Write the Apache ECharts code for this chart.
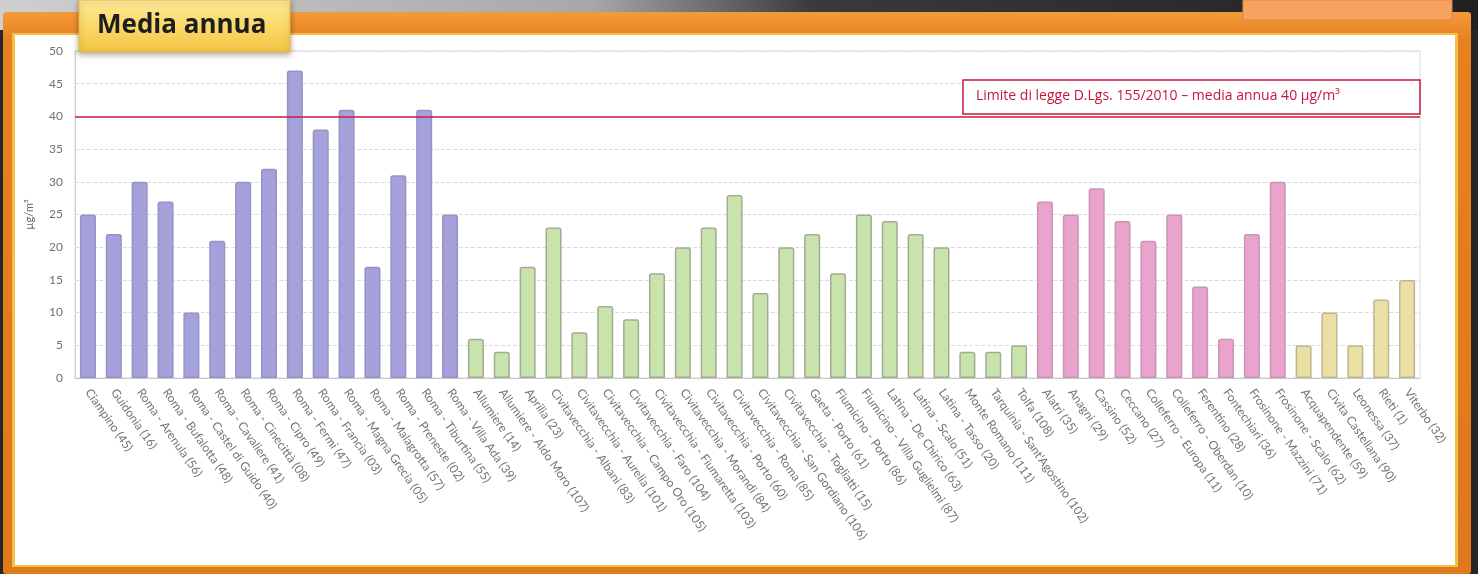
<!DOCTYPE html>
<html>
<head>
<meta charset="utf-8">
<script src="https://cdn.jsdelivr.net/npm/echarts@6/dist/echarts.min.js"></script>
<style>
html, body { margin: 0; padding: 0; background: #262626; }
#main { width: 1478px; height: 574px; }
</style>
</head>
<body>
<div id="main"></div>
<script>
// stazioni per provincia
var romaStations = ['Ciampino (45)', 'Guidonia (16)', 'Roma - Arenula (56)', 'Roma - Bufalotta (48)',
	'Roma - Castel di Guido (40)', 'Roma - Cavaliere (41)', 'Roma - Cinecittà (08)', 'Roma - Cipro (49)',
	'Roma - Fermi (47)', 'Roma - Francia (03)', 'Roma - Magna Grecia (05)', 'Roma - Malagrotta (57)',
	'Roma - Preneste (02)', 'Roma - Tiburtina (55)', 'Roma - Villa Ada (39)'];
var romaValues = [25, 22, 30, 27, 10, 21, 30, 32, 47, 38, 41, 17, 31, 41, 25];

var costaStations = ['Allumiere (14)', 'Allumiere - Aldo Moro (107)', 'Aprilia (23)', 'Civitavecchia - Albani (83)',
	'Civitavecchia - Aurelia (101)', 'Civitavecchia - Campo Oro (105)', 'Civitavecchia - Faro (104)',
	'Civitavecchia - Fiumaretta (103)', 'Civitavecchia - Morandi (84)', 'Civitavecchia - Porto (60)',
	'Civitavecchia - Roma (85)', 'Civitavecchia - San Gordiano (106)', 'Civitavecchia - Togliatti (15)',
	'Gaeta - Porto (61)', 'Fiumicino - Porto (86)', 'Fiumicino - Villa Guglielmi (87)', 'Latina - De Chirico (63)',
	'Latina - Scalo (51)', 'Latina - Tasso (20)', 'Monte Romano (111)', 'Tarquinia - Sant\'Agostino (102)', 'Tolfa (108)'];
var costaValues = [6, 4, 17, 23, 7, 11, 9, 16, 20, 23, 28, 13, 20, 22, 16, 25, 24, 22, 20, 4, 4, 5];

var frosinoneStations = ['Alatri (35)', 'Anagni (29)', 'Cassino (52)', 'Ceccano (27)', 'Colleferro - Europa (11)',
	'Colleferro - Oberdan (10)', 'Ferentino (28)', 'Fontechiari (36)', 'Frosinone - Mazzini (71)', 'Frosinone - Scalo (62)'];
var frosinoneValues = [27, 25, 29, 24, 21, 25, 14, 6, 22, 30];

var nordStations = ['Acquapendente (59)', 'Civita Castellana (90)', 'Leonessa (37)', 'Rieti (1)', 'Viterbo (32)'];
var nordValues = [5, 10, 5, 12, 15];

var limitValue = 40;
var limitText = 'Limite di legge D.Lgs. 155/2010 – media annua 40 µg/m³';

var groups = [
	{ names: romaStations, values: romaValues, color: '#a4a1db', border: '#9593c6' },
	{ names: costaStations, values: costaValues, color: '#c9e3ad', border: '#a3ab94' },
	{ names: frosinoneStations, values: frosinoneValues, color: '#e9a3cd', border: '#c597b3' },
	{ names: nordStations, values: nordValues, color: '#ebe0a4', border: '#bdb695' }
];

var categories = [];
var barData = [];
for (var g = 0; g < groups.length; g++) {
	for (var i = 0; i < groups[g].names.length; i++) {
		categories.push(groups[g].names[i]);
		barData.push({
			value: groups[g].values[i],
			itemStyle: { color: groups[g].color, borderColor: groups[g].border }
		});
	}
}

var myChart = echarts.init(document.getElementById('main'));
var option = {
	animation: false,
	textStyle: { fontFamily: 'Lato, "Open Sans", sans-serif' },
	graphic: [
		// sfondo e cornice
		{ type: 'rect', z: -20, shape: { x: 0, y: 0, width: 1478, height: 30 },
			style: { fill: new echarts.graphic.LinearGradient(0, 0, 1, 0, [
				{ offset: 0, color: '#cfcfcf' }, { offset: 0.4, color: '#a8a8a8' },
				{ offset: 0.55, color: '#3a3a3a' }, { offset: 1, color: '#202020' }]) } },
		{ type: 'rect', z: -19, shape: { x: 3, y: 12, width: 1468, height: 562, r: 3 },
			style: { fill: new echarts.graphic.LinearGradient(0, 0, 0, 1, [
				{ offset: 0, color: '#f39a3c' }, { offset: 0.05, color: '#e8801e' }, { offset: 1, color: '#e0781c' }]) } },
		{ type: 'rect', z: -18, shape: { x: 12, y: 33, width: 1446, height: 534 },
			style: { fill: '#f4c04a' } },
		{ type: 'rect', z: -17, shape: { x: 15, y: 35, width: 1440, height: 530 },
			style: { fill: '#ffffff' } },
		{ type: 'rect', z: -16, shape: { x: 1243, y: 0, width: 209, height: 20 },
			style: { fill: '#f5a35f', stroke: '#d98a48', lineWidth: 1 } },
		// riquadro titolo
		{ type: 'rect', z: 50, shape: { x: 79, y: 0, width: 211, height: 52 },
			style: {
				fill: new echarts.graphic.LinearGradient(0, 0, 0, 1, [
					{ offset: 0, color: '#fde99a' }, { offset: 0.5, color: '#fbd96a' }, { offset: 1, color: '#f2c443' }]),
				stroke: '#e8b93a', lineWidth: 1,
				shadowBlur: 6, shadowColor: 'rgba(0,0,0,0.35)', shadowOffsetY: 2
			} },
		{ type: 'text', z: 51, left: 97, top: 13,
			style: { text: 'Media annua', fill: '#1e1e1e', font: 'bold 26px "Open Sans", Lato, sans-serif' } },
		// riquadro limite di legge
		{ type: 'rect', z: 40, shape: { x: 963, y: 80, width: 457, height: 34 },
			style: { fill: '#ffffff', stroke: '#c8153c', lineWidth: 1.5 } },
		{ type: 'text', z: 41, left: 976, top: 89,
			style: { text: limitText, fill: '#c8153c', font: '14px "Open Sans", Lato, sans-serif' } }
	],
	grid: {
		left: 75, right: 58, top: 51, bottom: 196,
		show: true, borderColor: '#d9d9d9', borderWidth: 1
	},
	xAxis: {
		type: 'category',
		data: categories,
		axisLine: { lineStyle: { color: '#c8c8c8' } },
		axisTick: { show: false },
		axisLabel: { interval: 0, rotate: -55, margin: 12, color: '#737373', fontSize: 12 }
	},
	yAxis: {
		type: 'value',
		min: 0, max: 50, interval: 5,
		name: 'µg/m³',
		nameLocation: 'middle',
		nameGap: 40,
		nameTextStyle: { color: '#666', fontSize: 11 },
		axisLine: { show: true, lineStyle: { color: '#d0d0d0' } },
		axisLabel: { color: '#707070', fontSize: 12, margin: 12 },
		splitLine: { lineStyle: { color: '#dcdcdc', type: 'dashed' } }
	},
	series: [{
		type: 'bar',
		data: barData,
		barWidth: '62%',
		itemStyle: { borderWidth: 1.5, borderRadius: [2, 2, 0, 0] },
		markLine: {
			silent: true,
			symbol: 'none',
			label: { show: false },
			lineStyle: { color: '#d01848', width: 1.5, type: 'solid' },
			data: [{ yAxis: limitValue }]
		}
	}]
};
myChart.setOption(option);
</script>
</body>
</html>
